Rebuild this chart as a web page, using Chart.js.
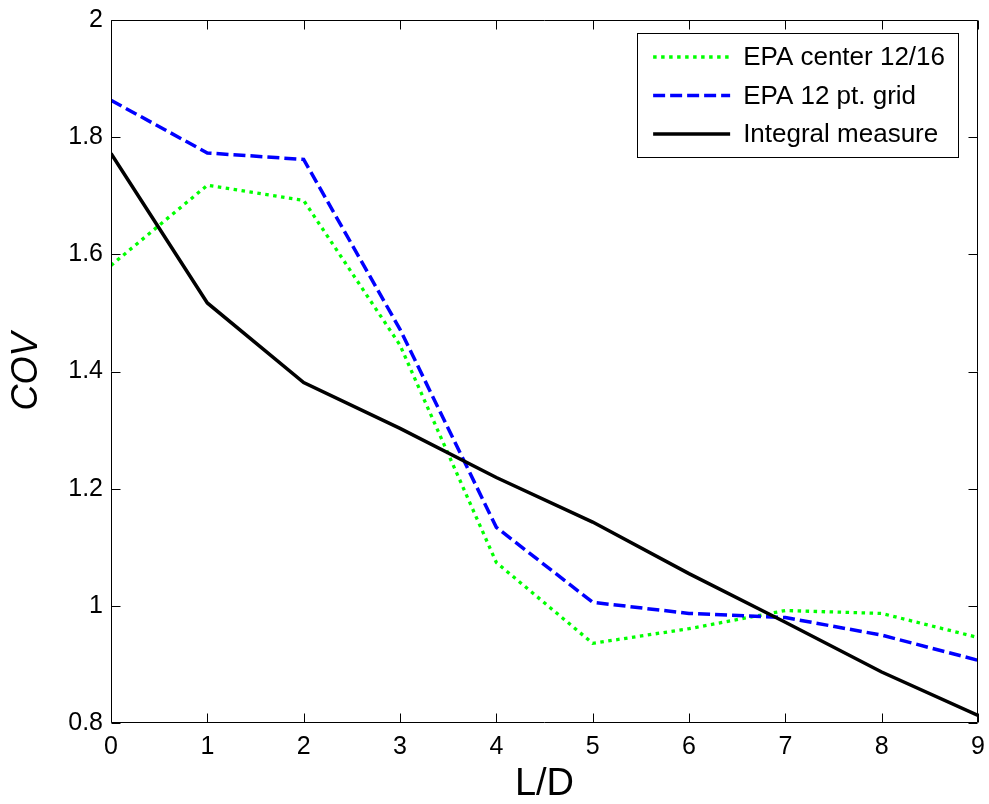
<!DOCTYPE html>
<html>
<head>
<meta charset="utf-8">
<script src="https://cdn.jsdelivr.net/npm/chart.js@4/dist/chart.umd.min.js"></script>
<style>
  html, body { margin: 0; padding: 0; background: #fff; }
  canvas { display: block; }
</style>
</head>
<body>
<canvas id="c" width="989" height="804"></canvas>
<script>
// ---- data ----
const ldValues = [0, 1, 2, 3, 4, 5, 6, 7, 8, 9];
const epaCenter = [1.581, 1.718, 1.692, 1.445, 1.074, 0.936, 0.961, 0.992, 0.987, 0.946];
const epaGrid   = [1.863, 1.773, 1.762, 1.472, 1.134, 1.006, 0.987, 0.980, 0.950, 0.907];
const integral  = [1.772, 1.517, 1.381, 1.303, 1.219, 1.143, 1.055, 0.972, 0.887, 0.813];
const seriesLabels = ['EPA center 12/16', 'EPA 12 pt. grid', 'Integral measure'];
const xTickValues = [0, 1, 2, 3, 4, 5, 6, 7, 8, 9];
const yTickValues = [0.8, 1, 1.2, 1.4, 1.6, 1.8, 2];
const yTickLabels = ['0.8', '1', '1.2', '1.4', '1.6', '1.8', '2'];
const xTitle = 'L/D';
const yTitle = 'COV';

const FONT = "'Liberation Sans', Arial, Helvetica, sans-serif";

const toPts = (ys) => ldValues.map((x, i) => ({ x: x, y: ys[i] }));

const framePlugin = {
  id: 'frame',
  afterDatasetsDraw(chart) {
    const { ctx, chartArea: a, scales: { x, y } } = chart;
    ctx.save();
    ctx.strokeStyle = '#000';
    ctx.lineWidth = 1;
    const L = Math.round(a.left) + 0.5, R = Math.round(a.right) - 0.5;
    const T = Math.round(a.top) + 0.5, B = Math.round(a.bottom) - 0.5;
    ctx.beginPath();
    ctx.rect(L, T, R - L, B - T);
    const tl = 9;
    xTickValues.forEach(v => {
      const px = Math.round(x.getPixelForValue(v)) + 0.5;
      ctx.moveTo(px, B); ctx.lineTo(px, B - tl);
      ctx.moveTo(px, T); ctx.lineTo(px, T + tl);
    });
    yTickValues.forEach(v => {
      const py = Math.round(y.getPixelForValue(v)) + 0.5;
      ctx.moveTo(L, py); ctx.lineTo(L + tl, py);
      ctx.moveTo(R, py); ctx.lineTo(R - tl, py);
    });
    ctx.stroke();
    ctx.restore();
  }
};

const legendPlugin = {
  id: 'boxLegend',
  afterDraw(chart) {
    const { ctx, chartArea: a } = chart;
    const ds = chart.data.datasets;
    ctx.save();
    const fs = 26;
    ctx.font = fs + 'px ' + FONT;
    let maxW = 0;
    ds.forEach(d => { maxW = Math.max(maxW, ctx.measureText(d.label).width); });
    const padL = 16, sampleLen = 77, gap = 13, padR = 13, rowH = 38.5, padT = 23.5;
    const w = padL + sampleLen + gap + maxW + padR;
    const h = padT * 2 + rowH * (ds.length - 1);
    const right = Math.round(a.right) - 20;
    const left = right - w;
    const top = Math.round(a.top) + 13.5;
    ctx.fillStyle = '#fff';
    ctx.fillRect(left, top, w, h);
    ctx.strokeStyle = '#000';
    ctx.lineWidth = 1;
    ctx.strokeRect(Math.round(left) + 0.5, top, Math.round(w), h);
    ds.forEach((d, i) => {
      const cy = top + padT + i * rowH;
      ctx.beginPath();
      ctx.strokeStyle = d.borderColor;
      ctx.lineWidth = d.borderWidth;
      ctx.lineCap = 'butt';
      ctx.setLineDash(d.borderDash || []);
      ctx.moveTo(left + padL, cy);
      ctx.lineTo(left + padL + sampleLen, cy);
      ctx.stroke();
      ctx.setLineDash([]);
      ctx.fillStyle = '#000';
      ctx.textBaseline = 'middle';
      ctx.textAlign = 'left';
      ctx.fillText(d.label, left + padL + sampleLen + gap, cy + 1);
    });
    ctx.restore();
  }
};

new Chart(document.getElementById('c'), {
  type: 'line',
  data: {
    datasets: [
      { label: seriesLabels[0], data: toPts(epaCenter), borderColor: '#00ff00', borderWidth: 3.3,
        borderDash: [3.5, 4.5], pointRadius: 0, tension: 0, fill: false, order: 3 },
      { label: seriesLabels[1], data: toPts(epaGrid), borderColor: '#0000ff', borderWidth: 3.5,
        borderDash: [12, 5], pointRadius: 0, tension: 0, fill: false, order: 2 },
      { label: seriesLabels[2], data: toPts(integral), borderColor: '#000000', borderWidth: 3.5,
        pointRadius: 0, tension: 0, fill: false, order: 1 }
    ]
  },
  options: {
    responsive: false,
    animation: false,
    layout: { padding: { left: 0, right: 11, top: 20, bottom: 0 } },
    plugins: { legend: { display: false }, tooltip: { enabled: false } },
    scales: {
      x: {
        type: 'linear', min: 0, max: 9,
        afterBuildTicks: (s) => { s.ticks = xTickValues.map(v => ({ value: v })); },
        afterFit: (s) => { s.height = 81; s.paddingLeft = 0; s.paddingRight = 0; },
        grid: { display: false, drawTicks: false },
        border: { display: false },
        ticks: { color: '#000', font: { family: FONT, size: 25 }, padding: 9,
                 callback: (v) => String(v), maxRotation: 0, autoSkip: false },
        title: { display: true, text: xTitle, color: '#000',
                 font: { family: FONT, size: 38, lineHeight: 1 }, padding: { top: 0, bottom: 0 } }
      },
      y: {
        type: 'linear', min: 0.8, max: 2,
        afterBuildTicks: (s) => { s.ticks = yTickValues.map(v => ({ value: v })); },
        afterFit: (s) => { s.width = 111; s.paddingTop = 0; s.paddingBottom = 0; },
        grid: { display: false, drawTicks: false },
        border: { display: false },
        ticks: { color: '#000', font: { family: FONT, size: 25 }, padding: 8, autoSkip: false,
                 callback: (v) => { const i = yTickValues.findIndex(t => Math.abs(t - v) < 1e-9); return i >= 0 ? yTickLabels[i] : ''; } },
        title: { display: true, text: yTitle, color: '#000',
                 font: { family: FONT, size: 36, style: 'italic', lineHeight: 1 }, padding: { top: 9, bottom: 0 } }
      }
    }
  },
  plugins: [framePlugin, legendPlugin]
});
</script>
</body>
</html>
